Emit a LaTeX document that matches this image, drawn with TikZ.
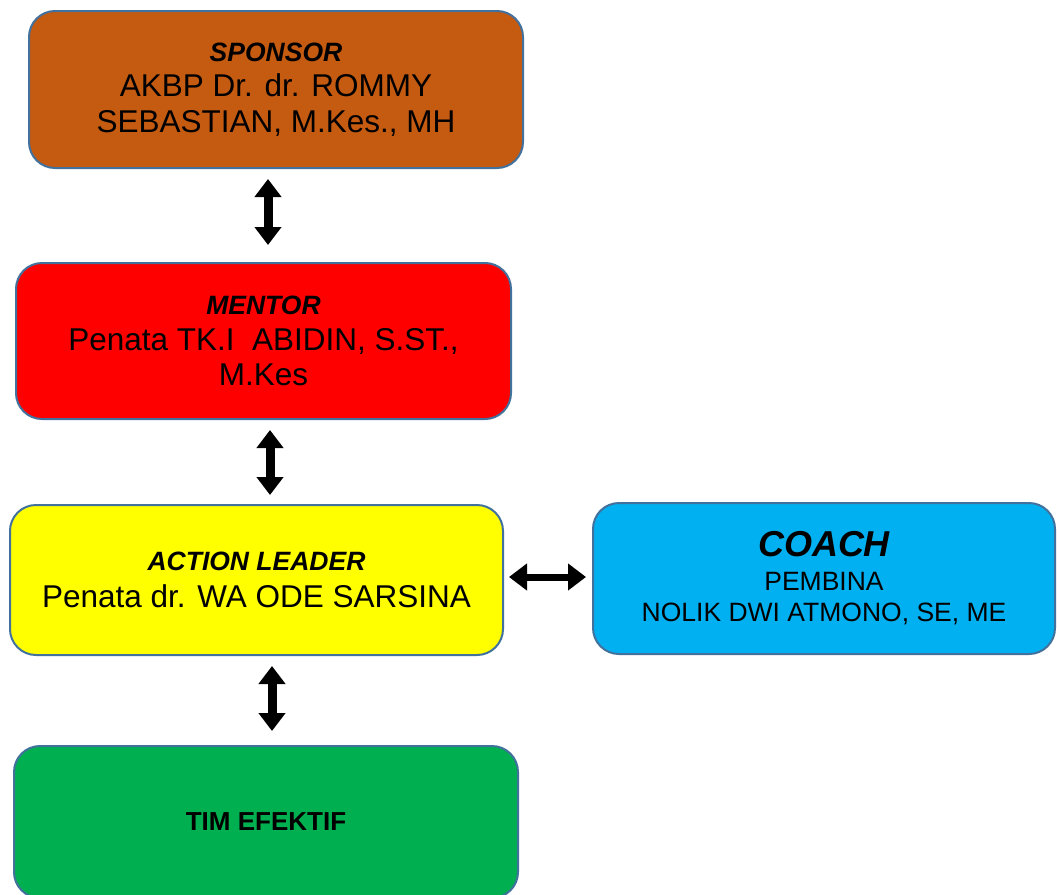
\documentclass[tikz,border=0pt]{standalone}
\usepackage{fontspec}
\setmainfont{Liberation Sans}
\usepackage{xcolor}
\usetikzlibrary{arrows.meta, positioning, calc}

\definecolor{boxedge}{HTML}{41719C}
\definecolor{sponsorfill}{HTML}{C55A11}
\definecolor{mentorfill}{HTML}{FF0000}
\definecolor{leaderfill}{HTML}{FFFF00}
\definecolor{coachfill}{HTML}{00B0F0}
\definecolor{timfill}{HTML}{00B050}

\newcommand{\headtxt}[1]{{\fontsize{26.5}{35}\selectfont\bfseries\itshape #1}}

\begin{document}
\begin{tikzpicture}[x=1pt, y=-1pt,
    box/.style={draw=boxedge, line width=2pt, rounded corners=26pt, align=center, inner sep=0pt,
        font=\fontsize{31.5}{35.5}\selectfont},
    biarrow/.style={line width=9pt, {Triangle[width=26pt,length=18pt]}-{Triangle[width=26pt,length=18pt]}}]
    \useasboundingbox (0,0) rectangle (1057,894);

    % Boxes
    \node[box, fill=sponsorfill, minimum width=494pt, minimum height=157pt] (sponsor) at (276,89.5)
        {\headtxt{SPONSOR}\\AKBP Dr. dr. ROMMY\\SEBASTIAN, M.Kes., MH};
    \node[box, fill=mentorfill, minimum width=495pt, minimum height=156pt] (mentor) at (263.5,341)
        {\headtxt{MENTOR}\\Penata TK.I\ \ ABIDIN, S.ST.,\\M.Kes};
    \node[box, fill=leaderfill, minimum width=493pt, minimum height=150pt] (leader) at (256.5,580)
        {\headtxt{ACTION LEADER}\\[2pt]Penata dr. WA ODE SARSINA};
    \node[box, fill=coachfill, minimum width=462pt, minimum height=151pt,
        font=\fontsize{26.5}{31}\selectfont] (coach) at (824,578.5)
        {{\fontsize{36}{32}\selectfont\bfseries\itshape COACH}\\[3pt]PEMBINA\\NOLIK DWI ATMONO, SE, ME};
    \node[box, fill=timfill, minimum width=504pt, minimum height=152pt,
        font=\fontsize{26}{28}\selectfont\bfseries] (tim) at (266,822) {TIM EFEKTIF};

    % Arrows
    \draw[biarrow] ($(sponsor.south)+(-8,10)$) -- ($(mentor.north)+(4.5,-17)$);
    \draw[biarrow] ($(mentor.south)+(6.5,10)$) -- ($(leader.north)+(13.5,-9)$);
    \draw[biarrow] ($(leader.south)+(15.5,10)$) -- ($(tim.north)+(6,-14)$);
    \draw[biarrow, line width=7pt] ($(leader.east)+(5,-3)$) -- ($(coach.west)+(-6,-1.5)$);
\end{tikzpicture}
\end{document}
